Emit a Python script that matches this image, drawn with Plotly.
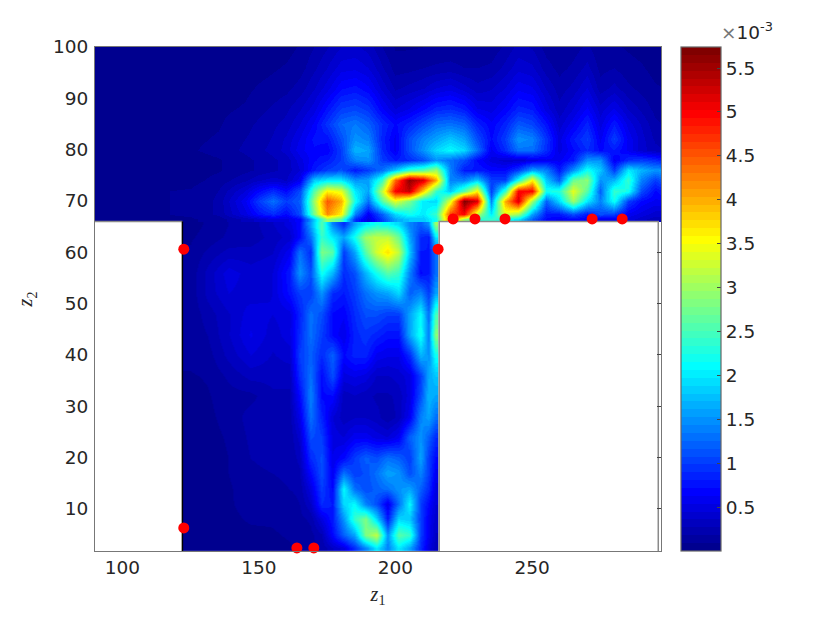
import plotly.graph_objects as go

# values are in units of 1e-3
upper_x = [90,110,125,135,145,150,155,160,165,170,175,180,185,190,195,200,205,210,215,220,225,230,235,240,245,250,255,260,265,270,275,280,285,290,295,300]
upper_y = [66.5,67.5,70,72,74,76,78,80,82,85,88,92,96,100]
upper_z = [
[.05,.08,.08,.12,.3,.4,.5,.5,.7,1.8,3.0,2.6,.9,.5,1.0,1.6,1.8,1.8,2.2,4.4,3.0,2.3,2.4,2.2,2.0,1.2,.7,.6,.7,.6,.6,.6,.5,.4,.3,.3],
[.05,.08,.1,.2,.5,.75,.9,.7,1.1,2.8,4.2,3.6,1.4,.6,1.2,1.9,2.2,2.0,2.4,4.6,5.0,3.2,2.0,3.4,3.0,1.6,.8,.8,1.1,.8,1.1,1.0,.6,.5,.4,.4],
[.05,.08,.1,.2,.6,1.0,1.3,1.0,1.2,3.0,4.5,4.0,2.2,1.3,2.6,3.4,2.8,2.0,1.9,3.4,5.7,5.2,1.4,4.0,5.2,3.0,1.2,1.9,3.0,2.0,1.4,2.2,1.0,.7,.6,.6],
[.05,.08,.1,.18,.45,.7,.9,.7,1.1,2.6,3.6,3.4,2.0,1.6,3.2,5.0,5.3,3.8,2.4,1.8,2.6,3.6,1.0,2.4,5.0,5.0,2.2,2.3,3.4,2.6,1.2,2.4,2.2,1.1,.7,.9],
[.03,.05,.06,.12,.25,.35,.4,.35,.6,1.8,2.0,2.0,1.5,1.6,2.4,4.4,5.6,5.2,4.0,1.4,1.4,1.8,1.0,1.0,2.2,3.6,1.8,1.2,2.7,2.9,1.5,1.7,2.4,1.4,1.0,1.3],
[.03,.04,.05,.08,.15,.2,.25,.3,.45,.8,1.0,1.1,.8,1.0,1.3,1.8,2.4,2.6,3.0,1.4,.8,.8,.7,.7,1.0,1.6,1.4,.8,1.5,2.2,1.8,1.0,2.0,1.7,1.5,1.6],
[.02,.04,.05,.08,.15,.2,.25,.3,.5,.7,.8,1.0,1.4,1.5,1.0,.8,.9,1.1,1.5,1.3,1.1,.7,.5,.4,.4,.5,.6,.6,.8,1.5,1.5,.6,.9,1.0,.9,.7],
[.02,.05,.08,.12,.2,.25,.3,.4,.6,.7,.65,1.0,1.7,1.6,.9,.6,1.1,1.5,1.9,2.1,1.9,1.3,.6,.9,1.3,1.3,.9,.5,.7,.9,.7,.8,.6,.4,.3,.25],
[.02,.04,.07,.1,.18,.22,.28,.38,.55,.75,.75,1.1,1.5,1.4,.85,.6,1.1,1.4,1.6,1.8,1.6,1.1,.7,1.0,1.5,1.4,.95,.5,.8,1.0,.6,1.0,.6,.4,.25,.2],
[.02,.04,.06,.08,.15,.2,.25,.3,.45,.65,.95,1.25,1.35,1.2,.9,.7,.85,1.05,1.25,1.3,1.2,.85,.65,.85,1.15,1.05,.75,.4,.6,.85,.5,.8,.5,.35,.2,.15],
[.02,.03,.05,.07,.1,.15,.2,.25,.35,.5,.75,1.0,1.05,.95,.65,.45,.55,.7,.85,.9,.8,.55,.5,.65,.85,.8,.5,.3,.45,.65,.4,.55,.35,.25,.15,.12],
[.02,.03,.04,.05,.07,.1,.12,.15,.22,.35,.5,.7,.75,.65,.42,.25,.3,.35,.45,.5,.4,.3,.35,.45,.6,.55,.35,.22,.3,.45,.22,.3,.2,.15,.1,.08],
[.02,.02,.03,.03,.05,.06,.08,.1,.14,.25,.36,.5,.52,.45,.28,.14,.15,.18,.2,.22,.18,.18,.2,.3,.42,.38,.22,.15,.2,.3,.15,.18,.12,.1,.06,.05],
[.01,.02,.02,.02,.03,.04,.05,.06,.1,.18,.26,.36,.38,.32,.18,.08,.08,.09,.1,.1,.09,.1,.12,.2,.3,.26,.14,.1,.14,.2,.1,.1,.08,.06,.04,.03],
]

lower_x = [125,131,139,147,155,161,165,169,173,177,181,185,189,193,197,201,205,209,212,214.5]
lower_y = [2.5,5,8,11,14,17,20,24,28,32,36,40,44,48,52,56,60,63,65.6]
lower_z = [
[.03,.04,.05,.05,.05,.08,.1,.15,.2,.35,.5,.9,1.4,2.0,1.4,2.0,1.6,.9,.5,.3],
[.03,.04,.06,.07,.08,.1,.12,.15,.25,.7,1.2,1.6,2.8,3.2,1.5,2.6,2.4,1.0,.6,.35],
[.03,.05,.07,.1,.1,.12,.15,.2,.5,.8,1.5,2.4,2.8,1.9,.8,1.9,1.8,1.0,.6,.4],
[.03,.05,.08,.12,.12,.14,.18,.35,.9,.8,1.9,2.1,1.4,1.1,.55,1.3,2.1,1.0,.7,.45],
[.03,.05,.08,.13,.15,.18,.2,.5,1.0,.7,2.1,1.3,1.1,1.2,1.3,1.5,1.6,1.2,.9,.5],
[.03,.05,.09,.15,.18,.2,.25,.7,1.1,.6,1.3,1.0,1.1,1.3,1.6,1.5,1.1,1.4,1.0,.6],
[.03,.05,.09,.18,.22,.2,.3,.9,1.1,.55,.7,1.0,1.2,1.1,1.3,1.2,1.0,1.6,1.0,.7],
[.03,.06,.1,.2,.22,.2,.4,1.1,1.0,.5,.45,.6,.6,.5,.45,.6,1.2,1.5,1.2,.9],
[.04,.07,.12,.22,.25,.22,.55,1.3,.85,.45,.3,.35,.35,.3,.2,.3,.6,1.4,1.6,1.3],
[.05,.08,.14,.15,.25,.25,.7,1.4,.7,.7,.3,.35,.3,.25,.25,.3,.5,1.1,1.7,1.6],
[.08,.1,.2,.3,.3,.3,.9,1.3,.7,1.1,.5,.55,.5,.35,.35,.4,.5,1.0,1.6,1.8],
[.12,.14,.3,.45,.35,.4,1.0,1.2,.9,1.2,.7,.85,.85,.6,.55,.55,.9,1.7,1.5,2.2],
[.12,.18,.35,.55,.4,.5,.9,1.3,1.0,.7,.55,.85,.95,.85,.75,.75,1.6,2.2,1.4,2.9],
[.12,.22,.35,.5,.45,.5,.85,1.3,1.1,.7,.65,.9,1.1,1.1,1.0,1.0,1.6,2.1,1.3,2.5],
[.12,.3,.45,.4,.45,.75,1.0,1.0,1.5,.9,.8,1.0,1.3,1.5,1.6,1.9,1.2,1.4,1.0,1.6],
[.12,.3,.5,.4,.45,.8,1.5,1.1,2.2,1.7,.9,1.1,1.7,2.2,2.6,2.4,1.4,.7,.8,1.3],
[.1,.2,.3,.3,.35,.6,1.3,.9,2.8,2.6,1.0,1.6,2.6,3.3,3.7,3.2,1.8,.8,.8,1.3],
[.08,.12,.2,.22,.3,.4,.7,1.3,2.4,2.0,1.6,2.2,3.0,3.2,3.2,2.7,1.6,.9,.8,2.0],
[.06,.1,.18,.22,.35,.5,.7,1.6,2.6,1.4,.9,1.6,2.0,2.2,2.1,1.9,1.4,1.2,1.5,3.0],
]

points_x = [122.5,122.5,163.9,170.1,215.6,221.1,229.1,240.1,272,283]
points_y = [60.6,6.3,2.4,2.4,60.6,66.5,66.5,66.5,66.5,66.5]

outline_x = [90,122,None,216,216,296.2,296.2]
outline_y = [66,66,None,1.8,66,66,1.8]
edge_x = [122,122]
edge_y = [66,1.8]

x_ticks = [100,150,200,250]
y_ticks = [10,20,30,40,50,60,70,80,90,100]
right_ticks = [10,20,30,40,50,60]
cb_ticks = [0.5,1,1.5,2,2.5,3,3.5,4,4.5,5,5.5]
cb_labels = ["0.5","1","1.5","2","2.5","3","3.5","4","4.5","5","5.5"]


def jet(n):
    out = []
    for i in range(n):
        t = (i + 1) / n
        r = min(4 * t - 1.5, -4 * t + 4.5)
        g = min(4 * t - 0.5, -4 * t + 3.5)
        b = min(4 * t + 0.5, -4 * t + 2.5)
        c = [round(255 * max(0, min(1, v))) for v in (r, g, b)]
        col = f"rgb({c[0]},{c[1]},{c[2]})"
        out.append([i / n, col])
        out.append([(i + 1) / n, col])
    return out


fig = go.Figure()
fig.add_trace(go.Heatmap(x=lower_x, y=lower_y, z=lower_z, coloraxis="coloraxis", zsmooth="best", hoverinfo="skip"))
fig.add_trace(go.Heatmap(x=upper_x, y=upper_y, z=upper_z, coloraxis="coloraxis", zsmooth="best", hoverinfo="skip"))
fig.add_trace(go.Scatter(x=outline_x, y=outline_y, mode="lines", line=dict(color="#8a8a8a", width=1.5), showlegend=False))
fig.add_trace(go.Scatter(x=edge_x, y=edge_y, mode="lines", line=dict(color="#000000", width=1.5), showlegend=False))
fig.add_trace(go.Scatter(x=points_x, y=points_y, mode="markers", marker=dict(color="#ff0000", size=11), cliponaxis=False, showlegend=False))
fig.add_trace(go.Scatter(x=[None], y=[None], yaxis="y2", showlegend=False))

font_tick = dict(family="DejaVu Sans", size=18.5, color="#262626")
font_title = dict(family="Liberation Serif", size=20, color="#262626")
axis_common = dict(showgrid=False, zeroline=False, showline=True, linecolor="#777777", linewidth=1.2,
                   ticks="", mirror=True, tickfont=font_tick)

fig.update_layout(
    width=822, height=611, autosize=False,
    margin=dict(l=87, r=169, t=39, b=68),
    paper_bgcolor="white", plot_bgcolor="white",
    xaxis=dict(range=[90, 297.2], tickvals=x_ticks, **axis_common,
               title=dict(text="<i>z</i><sub>1</sub>", font=font_title, standoff=9)),
    yaxis=dict(range=[1.8, 100], tickvals=y_ticks, ticklabelstandoff=2, **axis_common,
               title=dict(text="<i>z</i><sub>2</sub>", font=font_title, standoff=14)),
    yaxis2=dict(range=[1.8, 100], overlaying="y", side="right", tickvals=right_ticks, showticklabels=False,
                ticks="inside", ticklen=4, tickcolor="#444444", tickwidth=1, showgrid=False, zeroline=False,
                showline=False),
    coloraxis=dict(cmin=0, cmax=5.74, colorscale=jet(64),
                   colorbar=dict(thickness=40, thicknessmode="pixels", lenmode="pixels", len=504,
                                 x=1.0355, xanchor="left", xpad=0, y=1, yanchor="top", ypad=0,
                                 tickvals=cb_ticks, ticktext=cb_labels, ticks="inside", ticklen=4, tickcolor="#444444",
                                 tickfont=font_tick, outlinecolor="#666666", outlinewidth=1.2)),
    annotations=[dict(text="<span style='color:#777777'>×</span>10<sup>-3</sup>", xref="paper", yref="paper", x=1.102, y=1.0,
                      xanchor="left", yanchor="bottom", yshift=2, showarrow=False, font=font_tick)],
)

fig.write_html("out.html")
